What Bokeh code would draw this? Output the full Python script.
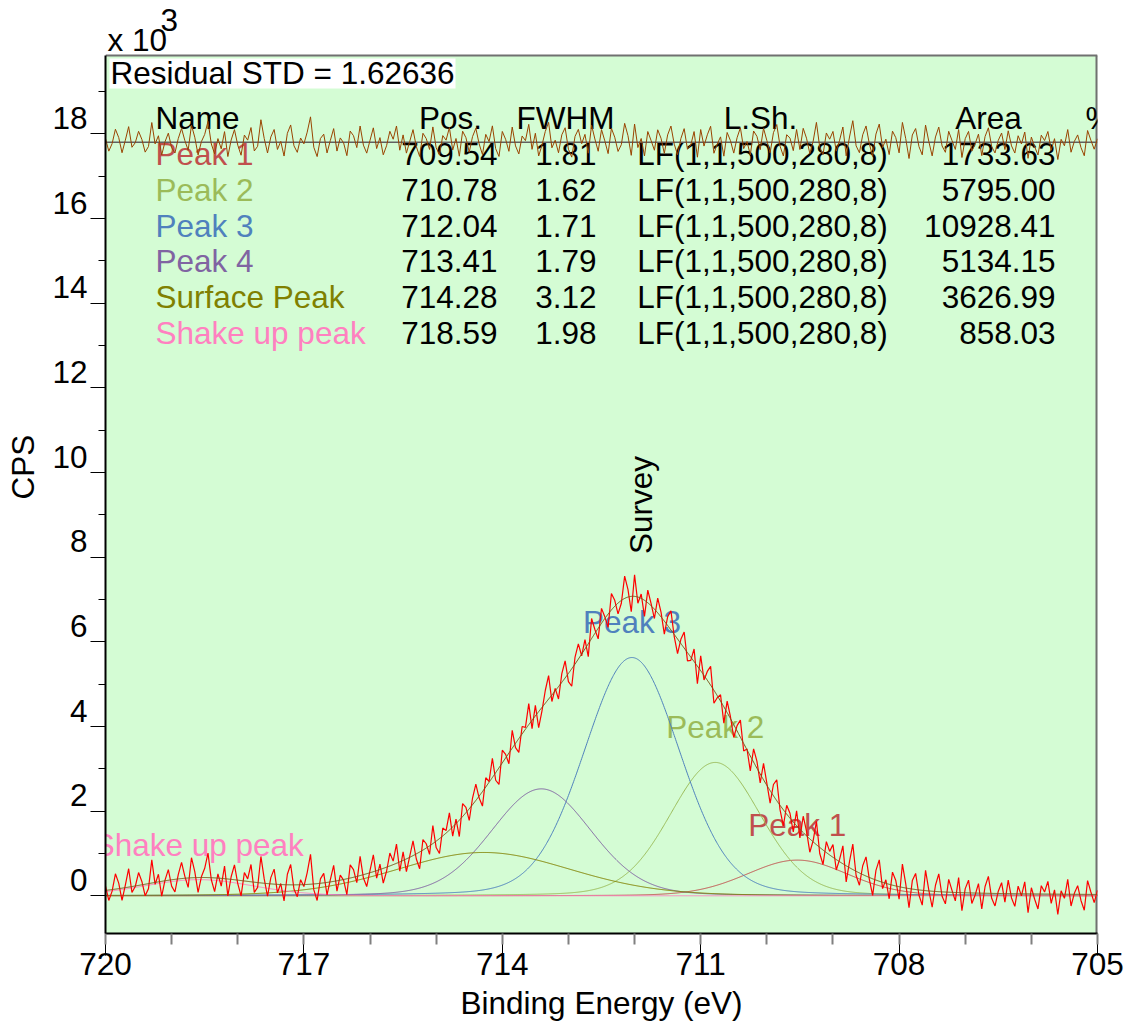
import numpy as np
from bokeh.plotting import figure
from bokeh.models import Range1d, FixedTicker, LinearAxis
from bokeh.core.properties import value
from bokeh.embed import file_html
from bokeh.resources import INLINE

# ---------------- data ----------------
peak_names = ["Peak 1", "Peak 2", "Peak 3", "Peak 4", "Surface Peak", "Shake up peak"]
peak_pos = [709.54, 710.78, 712.04, 713.41, 714.28, 718.59]
peak_fwhm = [1.81, 1.62, 1.71, 1.79, 3.12, 1.98]
peak_lsh = ["LF(1,1,500,280,8)"] * 6
peak_area = [1733.63, 5795.00, 10928.41, 5134.15, 3626.99, 858.03]
labelled_peaks = ["Peak 1", "Peak 2", "Peak 3", "Shake up peak"]
residual_std = "1.62636"

be_start, be_end = 720.0, 705.0
# measured counts (x10^3 CPS), 0.05 eV steps from 720 eV down to 705 eV
counts_k = [
    0.23, -0.11, 0.11, 0.52, 0.30, -0.11, 0.25, 0.64, 0.08, 0.22,
    0.55, 0.34, 0.00, 0.17, 0.85, 0.27, 0.51, -0.01, 0.37, 0.62,
    0.23, 0.09, 0.50, 0.79, 0.46, 0.20, 0.90, 0.57, 0.08, 0.45,
    0.65, 1.01, 0.38, 0.10, 0.52, 0.23, 0.70, 0.00, 0.45, 0.73,
    0.29, 0.00, 0.55, 0.40, 0.74, 0.08, 0.20, 0.93, 0.40, -0.01,
    0.43, 0.63, 0.07, 0.29, -0.12, 0.51, 0.74, 0.16, -0.02, 0.38,
    0.22, 0.55, 0.98, 0.14, -0.11, 0.40, 0.53, 0.02, 0.38, 0.72,
    0.11, 0.49, 0.37, 0.03, 0.73, 0.62, 0.31, 0.93, 0.42, 0.22,
    0.60, 0.97, 0.42, 0.75, 0.30, 0.58, 1.01, 0.82, 1.22, 0.58,
    1.04, 0.57, 0.93, 1.30, 0.87, 0.64, 1.33, 1.23, 0.98, 1.66,
    1.14, 1.00, 1.60, 1.54, 1.96, 1.41, 1.81, 1.40, 2.18, 2.09,
    1.78, 2.31, 2.64, 2.31, 2.12, 2.79, 2.70, 3.25, 2.73, 2.63,
    3.44, 3.34, 3.12, 3.91, 3.50, 3.39, 4.00, 3.98, 4.54, 3.95,
    4.50, 3.97, 4.37, 4.85, 5.20, 4.59, 4.90, 4.65, 5.25, 5.55,
    5.06, 4.95, 5.64, 5.95, 5.67, 6.05, 5.65, 6.55, 6.29, 6.07,
    6.79, 6.59, 6.34, 7.14, 6.98, 6.66, 6.91, 7.55, 7.24, 6.71,
    7.58, 6.91, 7.13, 6.60, 7.22, 6.90, 6.55, 7.03, 6.70, 6.18,
    6.59, 6.73, 6.12, 5.72, 6.06, 6.23, 5.55, 5.56, 5.83, 5.01,
    5.67, 5.10, 5.30, 5.42, 4.55, 4.68, 4.75, 4.08, 4.60, 4.23,
    3.74, 4.02, 4.15, 3.42, 3.47, 2.95, 3.47, 3.18, 2.67, 3.13,
    2.66, 2.19, 2.63, 2.74, 2.03, 1.65, 2.14, 1.95, 1.51, 2.01,
    1.37, 1.88, 1.53, 1.03, 1.30, 1.76, 1.00, 0.74, 1.28, 1.05,
    1.21, 0.61, 0.86, 1.18, 0.33, 0.81, 1.22, 0.48, 0.25, 0.71,
    0.92, 0.39, 0.01, 0.60, 0.85, 0.17, 0.38, -0.07, 0.56, 0.36,
    -0.08, 0.75, 0.29, -0.28, 0.36, 0.53, 0.02, -0.22, 0.60, 0.13,
    -0.27, 0.25, 0.52, -0.01, -0.19, 0.39, 0.13, -0.12, 0.43, -0.35,
    0.17, 0.37, -0.18, 0.02, 0.29, -0.31, 0.22, 0.46, -0.06, -0.24,
    0.11, 0.31, -0.15, 0.37, -0.05, -0.25, 0.23, 0.00, 0.33, -0.40,
    0.19, -0.08, -0.31, 0.24, 0.09, 0.34, -0.18, 0.14, -0.44, 0.12,
    -0.06, 0.39, -0.24, 0.06, 0.24, -0.11, -0.34, 0.36, 0.09, -0.16,
    0.13,
]
x_major = [720, 717, 714, 711, 708, 705]
x_minor = list(range(705, 721))
y_major = [0, 2, 4, 6, 8, 10, 12, 14, 16, 18]
y_minor = [1, 3, 5, 7, 9, 11, 13, 15, 17, 19]

# ---------------- styles ----------------
peak_colors = ["#c0504d", "#9bbb59", "#4f81bd", "#8064a2", "#808000", "#ff80c0"]
FONT = "Liberation Sans"
FS = "31.5px"
BG = "#d4fcd4"

# component line shape built from the fit table (LF approximated by a GL mix)
ETA = 0.14
def shape(x, c, f):
    d2 = (x - c) ** 2 / f ** 2
    return (1 - ETA) * np.exp(-4 * np.log(2) * d2) + ETA / (1 + 4 * d2)

norm = (1 - ETA) * 1.0645 + ETA * np.pi / 2
heights = [a / (f * norm) / 1000.0 for a, f in zip(peak_area, peak_fwhm)]

xe = np.linspace(be_start, be_end, len(counts_k))
ye = np.array(counts_k)
xf = np.linspace(be_start, be_end, 1501)
comps = [h * shape(xf, c, f) for h, c, f in zip(heights, peak_pos, peak_fwhm)]
envelope = np.sum(comps, axis=0)
env_at_data = np.sum([h * shape(xe, c, f) for h, c, f in zip(heights, peak_pos, peak_fwhm)], axis=0)
residual = ye - env_at_data

# ---------------- layout helpers (image px -> data) ----------------
PX_X = 66.133
PX_Y = 42.32
TXT_FIX = 11  # px: svg alphabetic baseline correction
def dx(px):
    return 720 - (px - 105) / PX_X
def dy(py):
    return (895 - py) / PX_Y
def ty(py):
    return dy(py - TXT_FIX)

Y_LO, Y_HI = -0.89, 19.85           # visible plot box
Y_TOP = dy(0)                        # canvas top (room for the x10^3 note)

p = figure(width=1125, height=1026, output_backend="svg", toolbar_location=None, title=None,
           x_range=Range1d(be_start, be_end), y_range=Range1d(Y_LO, Y_TOP),
           min_border_left=105, min_border_right=28, min_border_top=0, min_border_bottom=93)
p.background_fill_color = "white"
p.border_fill_color = "white"
p.outline_line_color = None
p.xgrid.visible = False
p.ygrid.visible = False

# plot box
p.quad(left=[be_start], right=[be_end], top=[Y_HI], bottom=[Y_LO], fill_color=BG, line_color=None)
p.line([be_start, be_end], [Y_HI, Y_HI], line_color="#707070", line_width=2)
p.line([be_end, be_end], [Y_LO, Y_HI], line_color="#707070", line_width=4)

# x10^3 note
p.text(x=[dx(107)], y=[ty(50)], text=["x 10"], text_font=value(FONT), text_font_size=FS,
       text_baseline="alphabetic", text_align="left")
p.text(x=[dx(160)], y=[ty(30)], text=["3"], text_font=value(FONT), text_font_size=FS,
       text_baseline="alphabetic", text_align="left")

# residual STD box
p.quad(left=[dx(109)], right=[dx(455)], top=[dy(58)], bottom=[dy(88)],
       fill_color="white", line_color=None)
p.text(x=[dx(110)], y=[ty(83)], text=["Residual STD = " + residual_std],
       text_font=value(FONT), text_font_size=FS, text_baseline="alphabetic", text_align="left")

# table
row_base = [ty(128.3 + 35.9 * i) for i in range(7)]
hdr_y = row_base[0]
rows_y = row_base[1:]
p.text(x=[dx(155), dx(1085)], y=[hdr_y] * 2, text=["Name", "%"],
       text_font=value(FONT), text_font_size=FS, text_baseline="alphabetic", text_align="left")
p.text(x=[dx(450), dx(565), dx(760), dx(988)], y=[hdr_y] * 4,
       text=["Pos.", "FWHM", "L.Sh.", "Area"],
       text_font=value(FONT), text_font_size=FS, text_baseline="alphabetic", text_align="center")
p.text(x=[dx(155)] * 6, y=rows_y, text=peak_names, text_color=peak_colors,
       text_font=value(FONT), text_font_size=FS, text_baseline="alphabetic", text_align="left")
p.text(x=[dx(497)] * 6, y=rows_y, text=["%.2f" % v for v in peak_pos],
       text_font=value(FONT), text_font_size=FS, text_baseline="alphabetic", text_align="right")
p.text(x=[dx(596)] * 6, y=rows_y, text=["%.2f" % v for v in peak_fwhm],
       text_font=value(FONT), text_font_size=FS, text_baseline="alphabetic", text_align="right")
p.text(x=[dx(762)] * 6, y=rows_y, text=peak_lsh,
       text_font=value(FONT), text_font_size=FS, text_baseline="alphabetic", text_align="center")
p.text(x=[dx(1055)] * 6, y=rows_y, text=["%.2f" % v for v in peak_area],
       text_font=value(FONT), text_font_size=FS, text_baseline="alphabetic", text_align="right")

# peak labels over the curves
lab_x, lab_y, lab_t, lab_c = [], [], [], []
for n, c, h, col in zip(peak_names, peak_pos, heights, peak_colors):
    if n in labelled_peaks:
        lab_x.append(c); lab_y.append(h + 0.57 + TXT_FIX / PX_Y); lab_t.append(n); lab_c.append(col)
p.text(x=lab_x, y=lab_y, text=lab_t, text_color=lab_c, text_font=value(FONT),
       text_font_size=FS, text_align="center", text_baseline="alphabetic")
imax = int(np.argmax(envelope))
p.text(x=[xf[imax] - 0.12], y=[envelope[imax] + 1.0], text=["Survey"], angle=np.pi / 2,
       text_font=value(FONT), text_font_size=FS, text_align="left", text_baseline="middle")

# curves
for comp, col in zip(comps, peak_colors):
    p.line(xf, comp, line_color=col, line_width=1)
p.line(xe, ye, line_color="#ff0000", line_width=1.2)
p.line(xf, envelope, line_color="#7a5418", line_width=1)

# residual trace
res_base = 17.8
p.line([be_start, be_end], [res_base, res_base], line_color="#606060", line_width=1.5)
p.line(xe, res_base + 0.85 * residual, line_color="#994400", line_width=1)

# x axis
p.xaxis.ticker = FixedTicker(ticks=x_major, minor_ticks=x_minor)
p.xaxis.major_tick_out = 22
p.xaxis.major_tick_in = 0
p.xaxis.minor_tick_out = 11
p.xaxis.minor_tick_in = 0
p.xaxis.major_tick_line_color = "black"
p.xaxis.minor_tick_line_color = "#808080"
p.xaxis.minor_tick_line_width = 2
p.xaxis.axis_line_color = "black"
p.xaxis.axis_line_width = 2
p.xaxis.major_label_text_font = FONT
p.xaxis.major_label_text_font_size = FS
p.xaxis.major_label_text_color = "black"
p.xaxis.major_label_standoff = -3
p.xaxis.axis_label = "Binding Energy (eV)"
p.xaxis.axis_label_text_font = FONT
p.xaxis.axis_label_text_font_size = FS
p.xaxis.axis_label_text_font_style = "normal"
p.xaxis.axis_label_text_color = "black"
p.xaxis.axis_label_standoff = 7

# y axis: ticks on the true scale
p.yaxis.ticker = FixedTicker(ticks=y_major, minor_ticks=y_minor)
p.yaxis.bounds = (Y_LO, Y_HI)
p.yaxis.major_tick_out = 15
p.yaxis.major_tick_in = 0
p.yaxis.minor_tick_out = 7
p.yaxis.minor_tick_in = 0
p.yaxis.major_tick_line_color = "black"
p.yaxis.minor_tick_line_color = "black"
p.yaxis.axis_line_color = "black"
p.yaxis.axis_line_width = 2
p.yaxis.major_label_overrides = {v: "" for v in y_major}
p.yaxis.major_label_standoff = 0

# y tick labels sit just above their ticks: a label-only axis on a slightly shifted range
LAB_SHIFT = 0.37
p.extra_y_ranges = {"lab": Range1d(Y_LO - LAB_SHIFT, Y_TOP - LAB_SHIFT)}
lab_axis = LinearAxis(y_range_name="lab", ticker=FixedTicker(ticks=y_major, minor_ticks=[]),
                      axis_line_color=None, major_tick_line_color=None, minor_tick_line_color=None,
                      major_tick_out=0, major_tick_in=0, minor_tick_out=0, minor_tick_in=0,
                      major_label_standoff=3, major_label_text_font=FONT,
                      major_label_text_font_size=FS, major_label_text_color="black",
                      axis_label="CPS", axis_label_text_font=FONT, axis_label_text_font_size=FS,
                      axis_label_text_font_style="normal", axis_label_text_color="black",
                      axis_label_standoff=8)
p.add_layout(lab_axis, "left")

open("out.html", "w").write(file_html(p, INLINE))
